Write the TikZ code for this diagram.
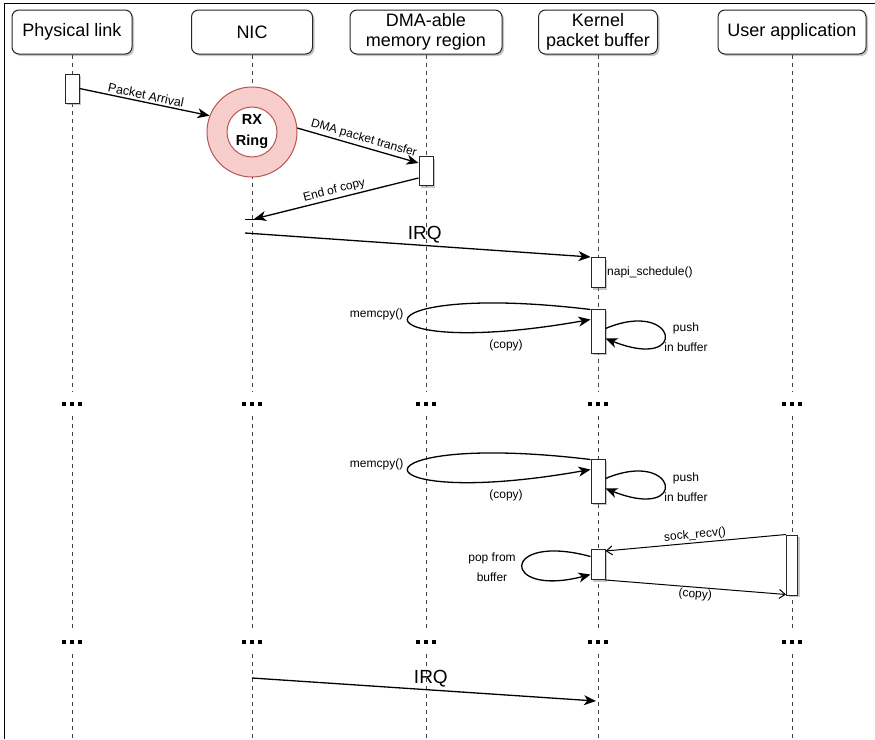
\documentclass[tikz,border=0pt]{standalone}
\usepackage{fontspec}
\setmainfont{Liberation Sans}
\usepackage{tikz}
\usetikzlibrary{arrows.meta,shadows}
\definecolor{ringfill}{HTML}{F8CECC}
\definecolor{ringline}{HTML}{B85450}
\tikzset{
  softshadow/.style={drop shadow={shadow xshift=2pt, shadow yshift=-2pt, fill=black!45, opacity=0.5}},
  actor/.style={draw=black!85, line width=1pt, rounded corners=7pt, fill=white, minimum height=44pt, inner sep=2pt, align=center, font=\fontsize{18}{20}\selectfont, softshadow},
  actbar/.style={draw=black!85, line width=1pt, fill=white, minimum width=14pt, inner sep=0pt, softshadow},
  lifeline/.style={black!75, line width=1pt, dash pattern=on 4pt off 4pt},
  msg/.style={line width=1.3pt, -{Stealth[length=12pt, width=10pt, inset=3.5pt]}},
  reply/.style={line width=1pt, -{Straight Barb[length=6pt, width=9pt]}},
  lbl/.style={font=\fontsize{12}{20}\selectfont, inner sep=1.5pt, align=center},
  lblmsg/.style={font=\fontsize{12.5}{14}\selectfont, inner sep=2pt},
  lblirq/.style={font=\fontsize{19}{22}\selectfont, inner sep=2pt}
}
\begin{document}
\begin{tikzpicture}[x=1pt, y=-1pt]
  \useasboundingbox (0,0) rectangle (875,739);
  \draw[line width=0.9pt] (4,739) -- (4,3) -- (875,3);
  \node[actor, minimum width=120pt] (phy) at (72,32) {Physical link};
  \node[actor, minimum width=121pt] (nic) at (252,32) {NIC};
  \node[actor, minimum width=152pt] (dma) at (426,32) {DMA-able\\memory region};
  \node[actor, minimum width=119pt] (kern) at (598,32) {Kernel\\packet buffer};
  \node[actor, minimum width=148pt] (app) at (792,32) {User application};
  \foreach \n/\x in {phy/72,nic/252,dma/426,kern/598,app/792}{
    \draw[lifeline] (\n.south) -- (\x,392);
    \draw[lifeline] (\x,416) -- (\x,630);
    \draw[lifeline] (\x,654) -- (\x,739);
    \foreach \y in {402,640}
      \foreach \d in {-10,-2,6} \fill ({\x+\d},\y) rectangle +(4,4);
  }
  \node[actbar, minimum height=29pt] (pa) at (72,88.5) {};
  \node[actbar, minimum height=29pt] (dmab) at (426,171) {};
  \node[actbar, minimum height=30pt] (napi) at (598,272.5) {};
  \node[actbar, minimum height=44pt] (kb1) at (598,331) {};
  \node[actbar, minimum height=44pt] (kb2) at (598,481) {};
  \node[actbar, minimum height=30pt] (kb3) at (598,564.5) {};
  \node[actbar, minimum width=11pt, minimum height=60pt] (ua) at (792,565) {};
  \node[circle, draw=ringline, fill=ringfill, line width=1pt, minimum size=90pt] (ring) at (252,132) {};
  \node[circle, draw=ringline, fill=white, line width=1pt, minimum size=50pt, inner sep=0pt, align=center, font=\bfseries\fontsize{14.5}{21}\selectfont] (ringin) at (ring) {RX\\Ring};
  \draw[msg] (pa.east) -- (ring.159) node[midway, sloped, above, lblmsg] (larr) {Packet Arrival};
  \draw[msg] (ring.5) -- ([yshift=8pt]dmab.west) node[pos=0.53, sloped, above, lblmsg, font=\fontsize{12}{14}\selectfont] (ldma) {DMA packet transfer};
  \coordinate (eoc) at (254,219);
  \coordinate (irqa) at (245,233);
  \draw[line width=1pt] (245,219) -- (259,219);
  \draw[msg] ([yshift=-7pt]dmab.west) -- (eoc) node[midway, sloped, above, lblmsg, font=\fontsize{12}{14}\selectfont] (leoc) {End of copy};
  \draw[msg] (irqa) -- (napi.north west) node[pos=0.52, above, lblirq] (lirqa) {IRQ};
  \node[lbl, anchor=west] (lnapi) at (napi.east) {napi\_schedule()};
  \foreach \b/\dy in {kb1/0,kb2/150}{
    \draw[msg] ([yshift=-1pt]\b.north west) .. controls (345,{280+\dy}) and (350,{362+\dy}) .. ([yshift=-11pt]\b.north west);
    \draw[msg] ([yshift=-20pt]\b.north east) .. controls (678,{298+\dy}) and (690,{372+\dy}) .. ([yshift=-30pt]\b.north east);
    \node[lbl, anchor=east] (lmem-\b) at (405,{314+\dy}) {memcpy()};
    \node[lbl] (lcopy-\b) at (506,{345+\dy}) {(copy)};
    \node[lbl] (lpush-\b) at (686,{337+\dy}) {push\\in buffer};
  }
  \draw[msg] ([yshift=-7.5pt]kb3.north west) .. controls (500,532) and (500,598) .. ([yshift=-25.5pt]kb3.north west);
  \node[lbl] (lpop) at (492,567) {pop from\\buffer};
  \draw[reply] (ua.north west) -- ([yshift=-2pt]kb3.north east) node[midway, sloped, above, lbl] (lsock) {sock\_recv()};
  \draw[reply] (kb3.south east) -- ([yshift=1pt]ua.south west) node[midway, sloped, below, lbl] (lret) {(copy)};
  \coordinate (irqb) at (252,678);
  \coordinate (irqc) at (596,701);
  \draw[msg] (irqb) -- (irqc) node[pos=0.52, above, lblirq] (lirqb) {IRQ};
\end{tikzpicture}
\end{document}
